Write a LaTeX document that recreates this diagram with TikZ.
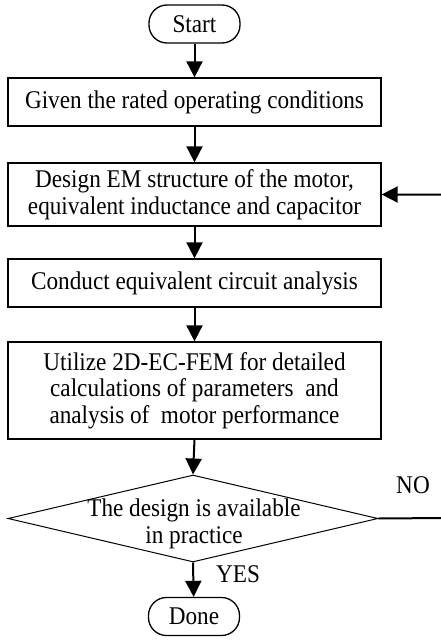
\documentclass[tikz,border=0pt]{standalone}
\usepackage{fontspec}
\setmainfont{Liberation Serif}[FakeStretch=0.91]
\usetikzlibrary{arrows.meta,shapes.geometric}
\begin{document}
\begin{tikzpicture}[x=1pt,y=-1pt,
  every node/.style={font=\fontsize{25.5}{26.7}\selectfont},
  term/.style={draw,line width=1.3pt,rounded corners=18pt,minimum width=91pt,minimum height=38pt,inner sep=0pt},
  proc/.style={draw,line width=1.3pt,minimum width=373pt,inner sep=0pt,align=center},
  dec/.style={draw,line width=1pt,diamond,minimum width=370pt,minimum height=87pt,inner sep=0pt},
  flow/.style={line width=2pt,-{Triangle[length=16pt,width=16pt]}},
  txt/.style={inner sep=0pt,align=center}]
\useasboundingbox (0,0) rectangle (440,640);
\node[term] (start) at (194.5,24) {Start};
\node[proc,minimum height=48pt] (b1) at (194.5,102) {Given the rated operating conditions};
\node[proc,minimum height=63pt] (b2) at (194.5,194.5) {Design EM structure of the motor,\\equivalent inductance and capacitor};
\node[proc,minimum height=48pt] (b3) at (194.5,283) {Conduct equivalent circuit analysis};
\node[proc,minimum height=97pt] (b4) at (194.5,390.5) {Utilize 2D-EC-FEM for detailed\\calculations of parameters~ and\\analysis of~ motor performance};
\node[dec] (d) at (193,518.5) {};
\node[txt] (dt) at (194,524) {The design is available\\in practice};
\node[term] (done) at (194,616.5) {Done};
\coordinate (c1) at (444,518);
\node[txt] (no) at (413,485) {NO};
\node[txt] (yes) at (238,574) {YES};
\draw[flow] (start) -- (b1);
\draw[flow] (b1) -- (b2);
\draw[flow] (b2) -- (b3);
\draw[flow] (b3) -- (b4);
\draw[flow] (b4.south) -- (d.north);
\draw[flow] (d.south) -- (done);
\draw[flow] (d.east) -- (c1) |- (b2.east);
\end{tikzpicture}
\end{document}
